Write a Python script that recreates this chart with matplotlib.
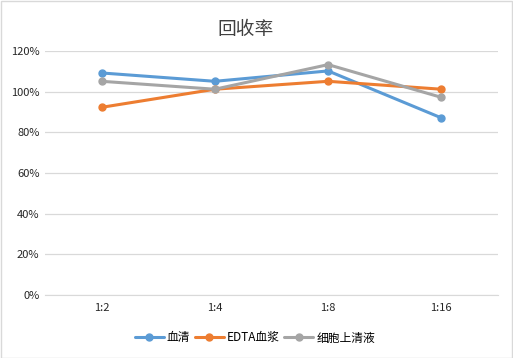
import matplotlib
matplotlib.use('Agg')
import matplotlib.pyplot as plt
from matplotlib.ticker import PercentFormatter

plt.rcParams['font.family'] = ['Noto Sans CJK SC', 'DejaVu Sans']

# Data
categories = ['1:2', '1:4', '1:8', '1:16']
serum = [109.2, 105.1, 110.2, 87.1]
edta_plasma = [92.3, 101.2, 105.1, 101.2]
supernatant = [105.1, 101.2, 113.3, 97.2]
series_names = ['血清', 'EDTA血浆', '细胞上清液']
colors = ['#5B9BD5', '#ED7D31', '#A5A5A5']

fig = plt.figure(figsize=(5.13, 3.58), dpi=100)
ax = fig.add_axes([45 / 513, 1 - 295 / 358, 453 / 513, 244 / 358])

x = range(len(categories))
for vals, name, c in zip([serum, edta_plasma, supernatant], series_names, colors):
    ax.plot(x, vals, color=c, lw=2.2, marker='o', markersize=5, label=name,
            solid_capstyle='round', solid_joinstyle='round')

ax.set_xlim(-0.5, 3.5)
ax.set_ylim(0, 120)
ax.set_yticks(range(0, 121, 20))
ax.yaxis.set_major_formatter(PercentFormatter(decimals=0))
ax.set_xticks(list(x))
ax.set_xticklabels(categories)
ax.grid(axis='y', color='#D9D9D9', lw=0.9)
ax.set_axisbelow(True)
for s in ['top', 'right', 'left']:
    ax.spines[s].set_visible(False)
ax.spines['bottom'].set_color('#D9D9D9')
ax.tick_params(axis='both', length=0, labelsize=8, colors='#262626', pad=6)
ax.tick_params(axis='y', pad=4)

fig.text(246 / 513, 1 - 30 / 358, '回收率', ha='center', va='center',
         fontsize=13.5, color='#404040')

fig.legend(loc='center', bbox_to_anchor=(255 / 513, 1 - 338 / 358), ncol=3,
           frameon=False, fontsize=8.5, handlelength=2.45, columnspacing=0.4,
           handletextpad=0.25, labelcolor='#000000')

# light border around the whole chart
fig.patches.append(plt.Rectangle((0.001, 0.001), 0.998, 0.997, transform=fig.transFigure,
                                 fill=False, edgecolor='#D9D9D9', lw=1))

fig.savefig('out.png', dpi=100)
